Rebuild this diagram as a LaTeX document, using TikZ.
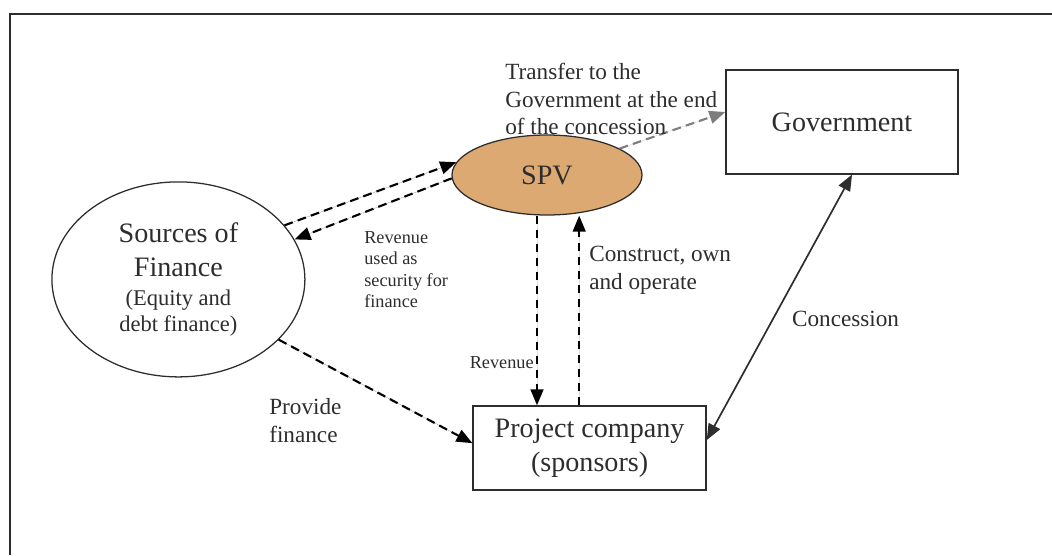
\documentclass[tikz,border=0pt]{standalone}
\usepackage{fontspec}
\setmainfont{Liberation Serif}
\usetikzlibrary{arrows.meta,positioning,shapes.geometric}
\definecolor{spvtan}{RGB}{221,169,115}
\definecolor{inkgray}{RGB}{45,45,45}
\definecolor{linkgray}{RGB}{125,125,125}
\tikzset{
  oval/.style={draw=inkgray, ellipse, line width=0.9pt, fill=#1, inner sep=0pt,
               text=inkgray, align=center, font=\fontsize{20}{24}\selectfont},
  party/.style={draw=inkgray, line width=0.9pt, fill=white, minimum width=5.825cm,
                minimum height=#1, align=center, text=inkgray, font=\fontsize{20}{24}\selectfont},
  flow/.style={-{Triangle[length=0.4cm,width=0.32cm]}, line width=1.5pt,
               dash pattern=on 0.22cm off 0.13cm, draw=#1, fill=#1},
  lbl/.style={text=inkgray, align=left, inner sep=0pt, font=\fontsize{16.5}{19.8}\selectfont},
  smalllbl/.style={text=inkgray, align=left, inner sep=0pt, font=\fontsize{13}{15.3}\selectfont},
}
\begin{document}
\begin{tikzpicture}
\useasboundingbox (0,0) rectangle (26.3,13.875);

% frame
\draw[line width=1pt, inkgray] (26.3,13.525) -- (0.25,13.525) -- (0.25,0);

% parties
\node[oval=white, minimum width=6.325cm, minimum height=4.875cm] (fin) at (4.46,6.89)
     {Sources of\\Finance\\[-3.5pt]{\fontsize{16}{19}\selectfont (Equity and}\\[-5.5pt]{\fontsize{16}{19}\selectfont debt finance)}};
\node[oval=spvtan, minimum width=4.75cm, minimum height=2cm] (spv) at (13.675,9.5) {SPV};
\node[party=2.6cm, minimum width=5.8cm] (gov) at (21.05,10.825) {Government};
\node[party=2.1cm] (proj) at (14.74,2.675) {Project company\\(sponsors)};

% finance <-> SPV
\draw[flow=black] (fin.27) -- (spv.172);
\draw[flow=black] (spv.182) -- (fin.19);
\node[smalllbl, anchor=west] (seclbl) at (9.1,7.14) {Revenue\\used as\\security for\\finance};

% SPV <-> project company
\coordinate (revtop) at ([xshift=-0.25cm]spv.south);
\coordinate (conbot) at ([xshift=-0.26cm]proj.north);
\draw[flow=black] (revtop) -- (revtop |- proj.north);
\draw[flow=black] (conbot) -- (conbot |- spv.south);
\node[smalllbl, anchor=east] (revlbl) at (13.35,4.8) {Revenue};
\node[lbl, anchor=west] (conlbl) at (14.725,7.125) {Construct, own\\and operate};

% finance -> project company
\draw[flow=black] (fin.329) -- ([yshift=0.12cm]proj.west);
\node[lbl, anchor=west] (provlbl) at (6.725,3.36) {Provide\\finance};

% SPV -> government
\draw[flow=linkgray] (spv.20) -- ([yshift=0.25cm]gov.west);
\node[lbl, anchor=west] (translbl) at (12.625,11.4) {Transfer to the\\Government at the end\\of the concession};

% concession
\draw[{Triangle[length=0.4cm,width=0.32cm]}-{Triangle[length=0.4cm,width=0.32cm]},
      line width=1.2pt, inkgray] ([yshift=0.2cm]proj.east) -- ([xshift=0.25cm]gov.south);
\node[lbl] (conclbl) at (21.14,5.9) {Concession};

\end{tikzpicture}
\end{document}
